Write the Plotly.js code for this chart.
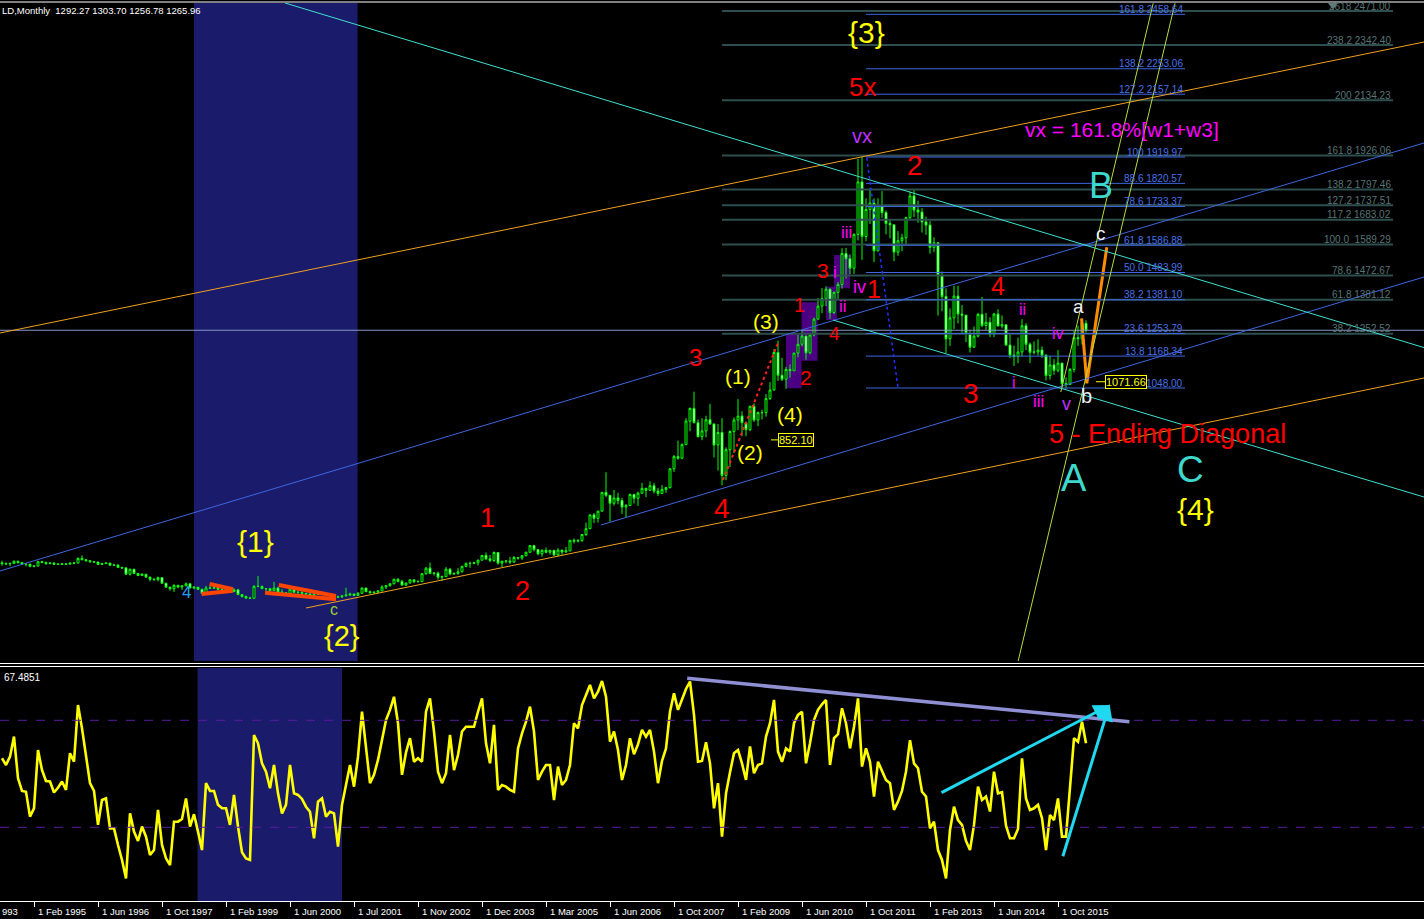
<!DOCTYPE html>
<html><head><meta charset="utf-8">
<script src="https://cdn.plot.ly/plotly-3.0.1.min.js"></script>
<style>html,body{margin:0;padding:0;background:#000;overflow:hidden}</style>
</head><body><div id="chart" style="width:1424px;height:919px"></div>
<script>
// ---------------- DATA ----------------
// Monthly bars (bar index 0 .. 271), GOLD monthly
const closes = [385,384,386,394,389,383,383,375,376,392, 389,385,387,383,382,384,383,387,387,405,
400,396,392,391,382,385,387,379,379,371, 369,345,364,348,340,345,334,326,325,332,
311,296,290,303,297,301,309,293,296,288, 273,293,292,294,288,287,287,280,286,268,
261,255,254,299,299,291,290,283,293,278, 275,272,288,277,277,273,270,264,269,274,
271,265,267,258,260,263,266,270,265,273, 293,279,275,277,282,297,302,309,326,318,
304,312,324,317,317,347,368,348,349,334, 336,364,346,348,354,375,385,386,388,398,
416,403,397,427,387,394,395,391,408,406, 415,428,453,438,422,435,428,435,418,436,
429,433,473,470,472,495,517,569,556,583, 654,643,613,633,623,599,604,646,632,651,
669,662,679,659,650,665,672,743,789,783, 834,923,971,917,864,886,928,912,833,880,
718,815,884,927,942,917,891,979,927,955, 955,1008,1040,1182,1096,1081,1118,1113,1180,1213,
1244,1181,1248,1308,1357,1386,1421,1333,1409,1439, 1556,1536,1500,1628,1826,1620,1722,1746,1566,1738,
1710,1669,1664,1561,1604,1615,1691,1773,1720,1712, 1675,1663,1579,1596,1472,1393,1234,1313,1395,1327,
1323,1253,1202,1244,1326,1284,1296,1250,1327,1282, 1287,1210,1172,1167,1184,1283,1213,1183,1184,1191,
1172,1095,1135,1115,1142,1065,1061,1118,1238,1234, 1293,1265.96];
const highs = [396,390,388,397,396,392,385,384,379,396, 396,393,391,390,387,387,386,388,391,408,
416,401,396,395,392,388,390,388,385,384, 373,369,366,364,350,348,346,336,330,336,
334,313,298,307,305,302,314,310,300,297, 290,301,301,301,297,293,291,290,292,290,
266,264,260,304,338,302,293,292,316,298, 289,277,292,294,280,279,274,275,272,276,
275,273,268,269,264,265,294,275,272,278, 294,293,284,280,284,303,305,310,328,330,
324,313,326,323,323,349,372,389,353,355, 340,372,369,352,368,376,390,392,392,400,
417,427,418,431,428,396,398,410,414,410, 417,430,455,456,438,439,446,437,436,443,
437,448,474,480,478,497,540,570,576,585, 655,730,640,663,652,633,610,650,649,657,
690,672,695,690,671,682,675,746,795,849, 839,934,974,1034,929,934,943,988,914,912,
934,824,888,937,1006,960,918,981,990,959, 966,1025,1070,1195,1227,1162,1128,1137,1180,1249,
1266,1244,1253,1314,1388,1425,1432,1424,1412,1448, 1576,1577,1552,1632,1913,1921,1764,1803,1764,1764,
1791,1718,1683,1665,1640,1630,1695,1790,1796,1755, 1727,1695,1678,1617,1599,1488,1424,1348,1434,1434,
1361,1322,1267,1280,1332,1392,1331,1315,1332,1345, 1322,1287,1255,1208,1238,1308,1293,1220,1224,1232,
1205,1175,1170,1157,1191,1142,1088,1123,1263,1283, 1304,1303.70];
const lows = [377,380,375,383,385,380,375,371,371,374, 387,381,383,380,380,380,381,382,383,386,
397,393,389,388,381,380,384,378,377,370, 365,344,340,346,338,339,334,318,319,318,
309,296,283,278,292,286,300,292,288,287, 272,273,290,290,284,283,281,277,277,267,
257,252,252,253,296,288,280,280,282,277, 275,270,271,275,270,267,266,263,264,267,
266,263,255,256,256,255,263,265,264,265, 271,278,272,271,276,281,289,298,307,314,
302,301,310,311,315,317,343,345,340,325, 319,335,341,342,343,352,371,369,383,378,
398,399,390,391,381,372,386,384,388,400, 399,412,426,431,416,411,424,419,414,413,
418,426,432,461,465,467,489,515,538,540, 585,636,543,604,609,573,560,603,612,603,
648,636,660,650,640,649,652,669,731,777, 779,834,885,915,862,851,862,910,786,736,
681,700,750,802,889,866,866,885,920,904, 929,940,1003,1042,1075,1074,1045,1087,1113,1164,
1205,1155,1176,1243,1306,1330,1357,1309,1327,1382, 1423,1462,1478,1479,1605,1532,1602,1667,1523,1563,
1690,1628,1613,1527,1547,1564,1588,1683,1693,1672, 1635,1626,1555,1562,1321,1338,1180,1207,1271,1292,
1251,1221,1182,1200,1239,1277,1268,1240,1240,1281, 1273,1207,1161,1131,1142,1167,1191,1142,1175,1170,
1162,1077,1080,1098,1107,1052,1046,1061,1107,1207, 1212,1256.78];
const firstOpen = 388;
const lastOpen = 1292.27;

// Indicator window values (one per bar)
const indicator = [55.8,53.3,56.4,63.9,48.3,43.6,43.3,34.0,37.1,58.9, 51.4,47.3,47.1,43.0,44.8,47.1,44.0,57.7,54.5,75.7,
67.0,57.0,46.5,43.6,30.9,40.2,40.8,29.6,29.6,23.4, 17.8,10.9,35.2,28.4,24.9,30.3,26.5,19.7,21.5,36.5,
23.4,18.4,15.9,32.1,32.1,33.1,40.8,30.3,34.9,28.4, 21.5,46.5,43.6,43.6,38.4,37.1,37.1,30.9,42.1,30.3,
20.7,18.4,17.8,64.5,61.4,53.9,50.8,44.6,53.3,42.7, 35.2,38.4,53.3,42.7,42.1,40.6,37.7,35.8,25.9,39.6,
40.8,34.0,35.8,35.2,22.8,38.4,45.8,53.3,45.2,56.4, 73.2,60.8,46.5,49.6,55.2,62.6,70.1,73.9,78.8,68.9,
49.6,58.0,63.3,54.5,55.8,54.5,73.2,78.2,65.8,50.8, 46.5,50.2,64.5,51.4,57.0,65.8,67.6,67.6,67.6,73.2,
78.2,61.4,53.9,68.3,44.0,45.8,45.2,44.0,43.3,59.5, 65.1,69.5,75.1,65.8,47.7,50.8,53.3,53.3,40.2,52.7,
45.8,47.7,53.3,68.9,67.0,75.7,79.5,83.2,78.2,80.7, 84.7,78.8,62.0,65.8,58.9,47.7,53.3,63.3,57.3,61.0,
66.4,63.9,66.4,58.3,46.5,54.8,59.5,73.2,80.1,73.9, 77.8,81.7,84.5,72.0,54.5,54.8,61.8,53.9,37.1,46.5,
26.5,42.7,50.6,57.7,58.9,53.9,47.7,60.2,50.2,53.3, 53.9,63.9,68.9,77.6,58.3,54.5,59.5,58.3,68.9,72.0,
73.2,53.9,61.4,70.1,73.9,76.0,77.6,53.3,63.3,64.8, 74.5,68.9,59.5,67.6,78.2,52.7,59.5,54.5,41.5,54.5,
51.1,47.7,46.5,36.5,39.6,43.6,50.8,62.6,53.9,52.1, 43.3,41.5,29.6,32.1,21.5,17.8,10.9,29.0,37.7,32.7,
30.9,24.9,21.5,30.9,45.2,40.2,41.5,35.9,50.8,42.7, 43.1,30.6,25.9,25.9,29.4,55.8,40.8,36.5,37.1,38.4,
33.4,21.5,34.6,32.7,40.8,26.5,26.5,44.6,63.3,62.0, 69.5,61.4];
const indicatorLevels = [70, 30];
const indicatorValueText = '67.4851';

// Time axis labels (bar index of each label); the first one is only partly visible
const firstTickText = '993';
const tickIdx = [8,24,40,56,72,88,104,120,136,152,168,184,200,216,232,248,264];
const tickText = ['1 Feb 1995','1 Jun 1996','1 Oct 1997','1 Feb 1999','1 Jun 2000','1 Jul 2001',
  '1 Nov 2002','1 Dec 2003','1 Mar 2005','1 Jun 2006','1 Oct 2007','1 Feb 2009','1 Jun 2010','1 Oct 2011',
  '1 Feb 2013','1 Jun 2014','1 Oct 2015'];

const headerText = 'LD,Monthly\u00a0\u00a01292.27 1303.70 1256.78 1265.96';
const bidPrice = 1265.96;

// Fibonacci set 1 (blue)
const fib1Span = [216, 295.75];
const fib1Levels = [2458.64,2253.06,2157.14,1919.97,1820.57,1733.37,1586.88,1483.99,1381.10,1253.79,1168.34,1048.00];
const fib1Labels = ['161.8 2458.64','138.2 2253.06','127.2 2157.14','100 1919.97','88.6 1820.57','78.6 1733.37',
  '61.8 1586.88','50.0 1483.99','38.2 1381.10','23.6 1253.79','13.8 1168.34','1048.00'];
// Fibonacci set 2 (slate)
const fib2Span = [180, 347.75];
const fib2Levels = [2471.00,2342.40,2134.23,1926.06,1797.46,1737.51,1683.02,1589.29,1472.67,1381.12,1252.52];
const fib2Labels = ['2618 2471.00','238.2 2342.40','200 2134.23','161.8 1926.06','138.2 1797.46','127.2 1737.51',
  '117.2 1683.02','100.0\u00a0\u00a01589.29','78.6 1472.67','61.8 1381.12','38.2 1252.52'];
const fibAnchorMark = [332.75, 2493.8];

// Trend lines: [x0, price0, x1, price1]
const blueChannel = [[-0.5,357.2,355.5,1972.9],[149.75,530.8,355.5,1467.0]];
const orangeChannel = [[-0.5,1255.6,355.5,2354.2],[76,217.5,355.5,1085.8]];
const cyanLines = [[70.75,2501.4,355.5,1200.5],[207.75,1304.7,355.5,636.5]];
const greenLines = [[253.8,2.3,293.25,2500.2],[264.7,1032.9,287.8,2500.2]];
const redDotted = [180.25,700.7,194,1217.9];
const blueDotted = [216.2,1916.3,224,1048];
const orangePathX = [269.9,271.2,276.2];
const orangePathY = [1311.1,1065.7,1579.1];
const triangleLines = [[51.9,308.1,57.75,288.1],[49.9,270.4,57.75,282.8],[69.2,304.3,83.5,262.8],[65.75,275.3,83.5,250.3]];
// Purple boxes: [x0, x1, priceLow, priceHigh]
const purpleBoxes = [[196,199.9,1046.9,1254.5],[199.9,203.9,1151.1,1371.5],[206,208.7,1304.7,1430.4],[208,212,1424.4,1550.1]];
// Shaded time zones (bar index)
const mainZone = [48, 88.9];
const indZone = [48.9, 85];
// Price tags: [text, xCenter, price, dashX0, dashX1]
const priceTags = [['852.10',198.4,852.10,192.25,194.75],['1071.66',281,1071.66,273.5,276]];

// Indicator drawings
const indTrend = [171.3,85.7,281.85,69.5];
const indArrows = [[234.5,42.7,277,75.7],[265.1,18.6,276.9,76.0]];

// Wave labels: [text, bar index, price, colour key, size]
const waveLabels = [
 ['{3}',216,2391.9,'Y',30],['5x',215,2184.3,'R',26],['vx',215,1999.3,'V',20],['2',228.25,1889.8,'R',28],
 ['vx = 161.8%[w1+w3]',280,2025.7,'M',21],['B',274.75,1810.6,'T',36],['c',274.75,1633.1,'W',19],
 ['iii',211,1636.9,'M',17],['3',205.25,1489.7,'R',21],['i',208.25,1485,'M',17],['iv',214.25,1430.4,'M',18],
 ['1',218,1421.7,'R',25],['1',199.25,1361.3,'R',20],['ii',210.25,1353.8,'M',17],['4',208,1255.6,'R',19],
 ['(3)',191,1300.9,'Y',21],['2',201,1085.8,'R',21],['3',173.25,1161.3,'R',24],['(1)',184,1093.3,'Y',21],
 ['(4)',197,946.1,'Y',21],['(2)',187,806.4,'Y',21],['4',180,595,'R',28],['1',121.25,557.3,'R',27],
 ['2',130,281.7,'R',27],['{1}',63.25,470.4,'Y',30],['{2}',85,112,'Y',29],['c',83,212,'G',16],
 ['4',46,277.9,'B',17],['4',249,1433.1,'R',25],['ii',255,1346.2,'M',16],['iv',264,1255.6,'M',16],
 ['a',269,1353.8,'W',19],['3',242.25,1025.4,'R',28],['i',253,1066.9,'M',16],['iii',259,998.9,'M',17],
 ['v',266,987.6,'V',18],['b',271,1017.8,'W',20],['5 - Ending Diagonal',291.25,874.3,'R',27],
 ['A',268,708.3,'T',38],['C',297,742.2,'T',37],['{4}',298.25,587.5,'Y',30]
];

// ---------------- STYLE / LAYOUT ----------------
const W = 1424, H = 919;
const colors = {Y:'#ffff00', R:'#ff0000', M:'#ff00ff', V:'#c030ff', T:'#3ed8cc', W:'#eeeef6', G:'#9acd32', B:'#2a9df4'};
const labelFont = 'Liberation Sans, Arial, sans-serif';
const py = px => 1 - px / H;
const mainTopPx = 3, mainBotPx = 661, indTopPx = 668, indBotPx = 901;
const priceAtPx = px => 1048 + (388 - px) * 3.775;
const indAtPx = px => 70 - (px - 720.3) * 0.3738;
const xRange = [-0.5, 355.5];
const xPaper = i => (i - xRange[0]) / (xRange[1] - xRange[0]);

const barIdx = closes.map((_, i) => i);
const opens = closes.map((c, i) => i === 0 ? firstOpen : (i === closes.length - 1 ? lastOpen : closes[i - 1]));

const traces = [
  {type:'candlestick', x:barIdx, open:opens, high:highs, low:lows, close:closes, xaxis:'x', yaxis:'y',
   increasing:{line:{color:'#00ff00', width:1}, fillcolor:'#000000'},
   decreasing:{line:{color:'#00ff00', width:1}, fillcolor:'#ffffff'},
   whiskerwidth:0, hoverinfo:'skip', showlegend:false},
  {type:'scatter', mode:'lines', x:barIdx, y:indicator, xaxis:'x', yaxis:'y2',
   line:{color:'#ffff00', width:2.6}, hoverinfo:'skip', showlegend:false},
  {type:'scatter', mode:'markers', x:[fibAnchorMark[0]], y:[fibAnchorMark[1]], xaxis:'x', yaxis:'y',
   marker:{symbol:'triangle-down', size:9, color:'#6a7a7a'}, hoverinfo:'skip', showlegend:false},
  {type:'scatter', mode:'lines', x:orangePathX, y:orangePathY, xaxis:'x', yaxis:'y',
   line:{color:'#ff8c00', width:3}, hoverinfo:'skip', showlegend:false}
];

const shapes = [];
const seg = (a, color, width, dash, yref) => ({type:'line', xref:'x', yref:yref||'y', x0:a[0], y0:a[1], x1:a[2], y1:a[3], line:{color, width, dash:dash||'solid'}});
shapes.push({type:'rect', xref:'x', yref:'paper', x0:mainZone[0], x1:mainZone[1], y0:py(mainBotPx), y1:py(mainTopPx), fillcolor:'#1b1b6c', line:{width:0}, layer:'below'});
shapes.push({type:'rect', xref:'x', yref:'paper', x0:indZone[0], x1:indZone[1], y0:py(indBotPx), y1:py(indTopPx), fillcolor:'#1b1b6c', line:{width:0}, layer:'below'});
purpleBoxes.forEach(b => shapes.push({type:'rect', xref:'x', yref:'y', x0:b[0], x1:b[1], y0:b[2], y1:b[3], fillcolor:'#4b0082', line:{width:0}, layer:'below'}));
fib2Levels.forEach(v => shapes.push(seg([fib2Span[0], v, fib2Span[1], v], '#2f4f4f', 2)));
fib1Levels.forEach(v => shapes.push(seg([fib1Span[0], v, fib1Span[1], v], '#3f66e0', 1)));
shapes.push({type:'line', xref:'paper', yref:'y', x0:0, x1:1, y0:bidPrice, y1:bidPrice, line:{color:'#8796c4', width:1}});
blueChannel.forEach(l => shapes.push(seg(l, '#3f66e0', 1)));
orangeChannel.forEach(l => shapes.push(seg(l, '#f0a020', 1)));
cyanLines.forEach(l => shapes.push(seg(l, '#40e0d0', 1)));
greenLines.forEach(l => shapes.push(seg(l, '#b4dc3c', 1)));
shapes.push(seg(redDotted, '#ff2020', 2, 'dot'));
shapes.push(seg(blueDotted, '#2030ff', 1.5, 'dot'));
triangleLines.forEach(l => shapes.push(seg(l, '#ff4500', 4)));
priceTags.forEach(t => shapes.push(seg([t[3], t[2], t[4], t[2]], '#ffff00', 1)));
indicatorLevels.forEach(v => shapes.push({type:'line', xref:'paper', yref:'y2', x0:0, x1:1, y0:v, y1:v, line:{color:'#5a1aa0', width:1, dash:'dash'}}));
shapes.push(seg(indTrend, '#8f8fd4', 3.5, 'solid', 'y2'));
[2, 663.5, 666.5].forEach(p => shapes.push({type:'line', xref:'paper', yref:'paper', x0:0, x1:1, y0:py(p), y1:py(p), line:{color:'#ffffff', width:1}}));

const annotations = [];
waveLabels.forEach(l => annotations.push({x:l[1], y:l[2], xref:'x', yref:'y', text:l[0], showarrow:false,
  xanchor:'center', yanchor:'middle', font:{family:labelFont, size:l[4], color:colors[l[3]]}}));
fib1Levels.forEach((v, i) => annotations.push({x:fib1Span[1], y:v, xref:'x', yref:'y', text:fib1Labels[i], showarrow:false,
  xanchor:'right', yanchor:'middle', yshift:5, font:{family:labelFont, size:10, color:'#4a70e8'}}));
fib2Levels.forEach((v, i) => annotations.push({x:fib2Span[1], y:v, xref:'x', yref:'y', text:fib2Labels[i], showarrow:false,
  xanchor:'right', yanchor:'middle', yshift:5, font:{family:labelFont, size:10, color:'#587474'}}));
priceTags.forEach(t => annotations.push({x:t[1], y:t[2], xref:'x', yref:'y', text:t[0], showarrow:false,
  xanchor:'center', yanchor:'middle', bgcolor:'#000000', bordercolor:'#ffff00', borderwidth:1, borderpad:0,
  font:{family:labelFont, size:11, color:'#ffff00'}}));
annotations.push({x:0, y:py(911), xref:'paper', yref:'paper', text:firstTickText, showarrow:false,
  xanchor:'left', yanchor:'middle', font:{family:labelFont, size:9.5, color:'#ffffff'}});
tickIdx.forEach((t, i) => annotations.push({x:xPaper(t), y:py(911), xref:'paper', yref:'paper', text:tickText[i], showarrow:false,
  xanchor:'left', yanchor:'middle', xshift:2, font:{family:labelFont, size:9.5, color:'#ffffff'}}));
annotations.push({x:0, y:py(11), xref:'paper', yref:'paper', text:headerText, showarrow:false, xanchor:'left', yanchor:'middle',
  font:{family:labelFont, size:9.5, color:'#ffffff'}});
annotations.push({x:0, y:py(677), xref:'paper', yref:'paper', text:indicatorValueText, showarrow:false, xanchor:'left', yanchor:'middle',
  xshift:2, font:{family:labelFont, size:10, color:'#ffffff'}});
indArrows.forEach(a => annotations.push({x:a[2], y:a[3], ax:a[0], ay:a[1], xref:'x', yref:'y2', axref:'x', ayref:'y2',
  text:'', showarrow:true, arrowhead:2, arrowsize:1.1, arrowwidth:3, arrowcolor:'#20d8f0', standoff:0}));

const layout = {
  width:W, height:H, autosize:false,
  margin:{l:0, r:0, t:0, b:0, pad:0},
  paper_bgcolor:'#000000', plot_bgcolor:'#000000',
  showlegend:false, hovermode:false, dragmode:false,
  xaxis:{range:xRange, domain:[0,1], anchor:'y2', showgrid:false, zeroline:false, showline:true, linecolor:'#ffffff', linewidth:1,
         ticks:'outside', ticklen:5, tickcolor:'#ffffff', tickvals:tickIdx, showticklabels:false,
         rangeslider:{visible:false}, fixedrange:true},
  yaxis:{domain:[py(mainBotPx), py(mainTopPx)], range:[priceAtPx(mainBotPx), priceAtPx(mainTopPx)],
         showgrid:false, zeroline:false, showticklabels:false, ticks:'', fixedrange:true},
  yaxis2:{domain:[py(indBotPx), py(indTopPx)], range:[indAtPx(indBotPx), indAtPx(indTopPx)],
          showgrid:false, zeroline:false, showticklabels:false, ticks:'', fixedrange:true},
  shapes, annotations
};

Plotly.newPlot('chart', traces, layout, {staticPlot:true, displayModeBar:false});
</script></body></html>
